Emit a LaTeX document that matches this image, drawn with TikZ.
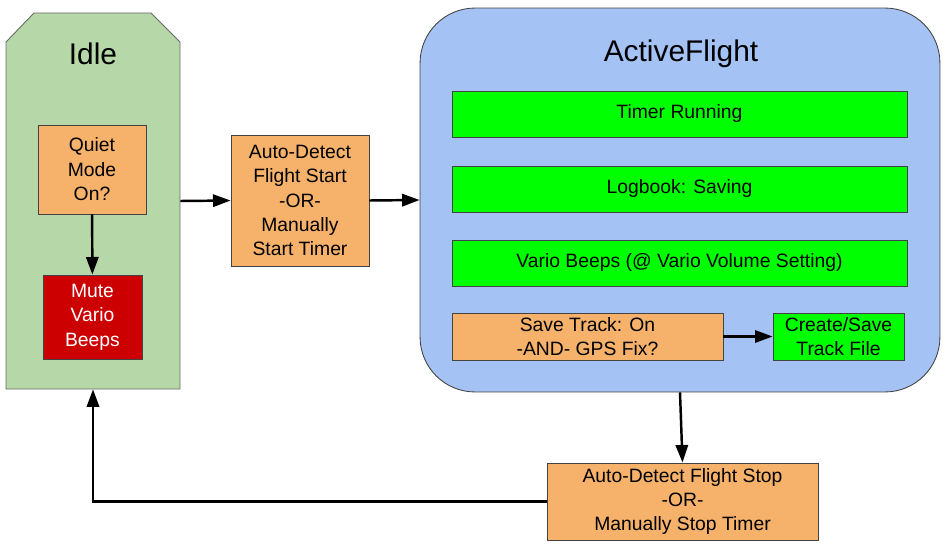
\documentclass[tikz,border=0pt]{standalone}
\usepackage{fontspec}
\setmainfont{Liberation Sans}
\usepackage{xcolor}
\usetikzlibrary{arrows.meta,positioning}
\definecolor{idlegreen}{HTML}{B6D7A8}
\definecolor{flightblue}{HTML}{A4C2F4}
\definecolor{askorange}{HTML}{F6B26B}
\definecolor{okgreen}{HTML}{00FF00}
\definecolor{mutered}{HTML}{CC0000}
\definecolor{edge}{HTML}{434343}

\begin{document}
\begin{tikzpicture}[x=0.02cm,y=-0.02cm,
          every node/.style={font=\fontsize{11}{13.9}\selectfont},
          titletext/.style={font=\fontsize{17}{20}\selectfont},
          askbox/.style={draw=edge,line width=0.5pt,fill=askorange,align=center,inner sep=0pt},
          donebox/.style={draw=edge,line width=0.5pt,fill=okgreen,align=center,inner sep=0pt},
          flow/.style={-{Triangle[length=10pt,width=7pt]},line width=1.4pt},
      ]
        \useasboundingbox (0,0) rectangle (946,547);

        % Idle state
        \fill[idlegreen,draw=edge!80,line width=0.5pt]
          (6,389) -- (6,42) -- (34,13) -- (151,13) -- (180,42) -- (180,389) -- cycle;
        \node[minimum width=3.48cm,minimum height=7.52cm,inner sep=0pt] (idle) at (93,201) {};
        \node[titletext] (idletitle) at (93,54) {Idle};
        \node[askbox,minimum width=2.16cm,minimum height=1.78cm] (quiet) at (92,169.5)
          {Quiet\\Mode\\On?};
        \node[draw=edge,line width=0.5pt,fill=mutered,text=white,align=center,inner sep=0pt,
              minimum width=1.98cm,minimum height=1.68cm] (mute) at (92.5,317)
          {Mute\\Vario\\Beeps};

        % ActiveFlight state
        \node[draw=edge,line width=0.5pt,fill=flightblue,rounded corners=1.1cm,
              minimum width=10.4cm,minimum height=7.68cm] (active) at (680,200) {};
        \node[titletext] (activetitle) at (681,54) {ActiveFlight};
        \node[donebox,minimum width=9.1cm,minimum height=0.92cm] (timer) at (679.5,114) {Timer Running};
        \node[donebox,minimum width=9.1cm,minimum height=0.92cm] (logbook) at (679.5,189) {Logbook: Saving};
        \node[donebox,minimum width=9.1cm,minimum height=0.92cm] (vario) at (679.5,263)
          {Vario Beeps (@ Vario Volume Setting)};
        \node[askbox,minimum width=5.42cm,minimum height=0.94cm] (savetrack) at (587.5,336.5)
          {Save Track: On\\-AND- GPS Fix?};
        \node[donebox,minimum width=2.62cm,minimum height=0.94cm] (trackfile) at (838.5,336.5)
          {Create/Save\\Track File};

        % transitions
        \node[askbox,minimum width=2.76cm,minimum height=2.62cm] (start) at (300,200.5)
          {Auto-Detect\\Flight Start\\-OR-\\Manually\\Start Timer};
        \node[askbox,minimum width=5.42cm,minimum height=1.54cm] (stop) at (682.5,501.5)
          {Auto-Detect Flight Stop\\-OR-\\Manually Stop Timer};

        \draw[flow] (quiet) -- (mute);
        \draw[flow] (idle.east) -- (start.west);
        \draw[flow] (start.east) -- (active.west);
        \draw[flow] (savetrack) -- (trackfile);
        \draw[flow] (active.south) -- (stop.north);
        \draw[flow] (stop.west) -| (idle.south);
      \end{tikzpicture}
\end{document}
